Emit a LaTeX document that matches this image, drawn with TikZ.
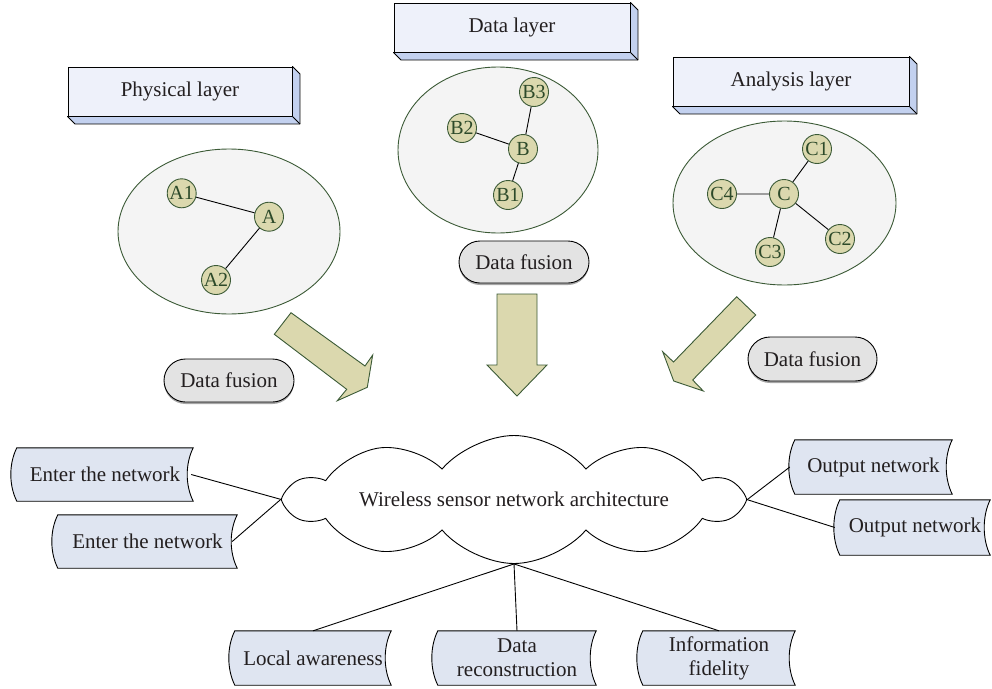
\documentclass[tikz,border=0pt]{standalone}
\usepackage{fontspec}
\setmainfont{Liberation Serif}
\usetikzlibrary{shapes.geometric,shapes.symbols,shapes.misc,backgrounds,shadows,calc}
\definecolor{layerfront}{HTML}{EEF1FA}
\definecolor{layerdepth}{HTML}{C3D1EF}
\definecolor{tapefill}{HTML}{DFE5F1}
\definecolor{ringfill}{HTML}{F4F4F4}
\definecolor{dkgreen}{HTML}{3B5A36}
\definecolor{khaki}{HTML}{DBD8AE}
\definecolor{dottext}{HTML}{2D4A2A}
\definecolor{pillfill}{HTML}{E3E3E3}
\definecolor{ink}{HTML}{231F20}
\begin{document}
\begin{tikzpicture}[x=1pt,y=-1pt,
  font=\fontsize{21}{24}\selectfont, text=ink,
  layer/.style={draw=black, fill=layerfront, line width=0.9pt, inner sep=0pt},
  depthface/.style={draw=black, fill=layerdepth, line width=0.9pt, line join=round},
  ring/.style={ellipse, draw=dkgreen, fill=ringfill, line width=0.9pt, inner sep=0pt},
  dot/.style={circle, draw=dkgreen, fill=khaki, text=dottext, line width=0.9pt,
    minimum size=29pt, inner sep=0pt, font=\fontsize{20}{20}\selectfont},
  pill/.style={rounded rectangle, draw=black, fill=pillfill, line width=0.9pt, inner sep=0pt,
    drop shadow={shadow xshift=0pt, shadow yshift=-2pt, fill=gray!70, opacity=1}},
  tape/.style={inner sep=0pt, align=center},
  tapeshape/.style={draw=black, fill=tapefill, line width=0.9pt},
  link/.style={draw=black, line width=0.9pt},
  blockarrow/.style={draw=dkgreen, fill=khaki, line width=0.9pt, line join=miter},
  netline/.style={draw=black, line width=0.9pt}]
\useasboundingbox (0,0) rectangle (992,688);

% ---- layer headers (boxes with a bevelled depth) ----
\node[layer, minimum width=224pt, minimum height=49pt] (pl) at (180,91.5) {Physical layer};
\node[layer, minimum width=236pt, minimum height=49pt] (dl) at (512,27.5) {Data layer};
\node[layer, minimum width=236pt, minimum height=49pt] (al) at (791,81.5) {Analysis layer};
\foreach \n in {pl,dl,al}{
  \filldraw[depthface] (\n.south west) -- ++(7.5,7.5) -| ($(\n.north east)+(7.5,7.5)$)
    -- (\n.north east) -- (\n.south east) -- cycle;
  \draw[depthface] (\n.south east) -- ++(7.5,7.5);
}

% ---- clusters ----
\node[ring, minimum width=222pt, minimum height=165pt] (ea) at (229,231.5) {};
\node[ring, minimum width=200pt, minimum height=166pt] (eb) at (498,150) {};
\node[ring, minimum width=223pt, minimum height=164pt] (ec) at (784.5,203) {};

\node[dot] (A1) at (181.7,193.3) {A1};
\node[dot] (A)  at (269,216.7) {A};
\node[dot] (A2) at (216,280) {A2};
\draw[netline] (A1) -- (A) (A) -- (A2);

\node[dot] (B3) at (534,92) {B3};
\node[dot] (B2) at (462,128) {B2};
\node[dot] (B)  at (523,149) {B};
\node[dot] (B1) at (508,195) {B1};
\draw[netline] (B2) -- (B) (B3) -- (B) (B) -- (B1);

\node[dot] (C1) at (817,149) {C1};
\node[dot] (C)  at (784,194) {C};
\node[dot] (C4) at (722,194) {C4};
\node[dot] (C2) at (840,239) {C2};
\node[dot] (C3) at (770,252) {C3};
\draw[netline] (C) -- (C1) (C) -- (C4) (C) -- (C2) (C) -- (C3);

% ---- data fusion labels ----
\node[pill, minimum width=130pt, minimum height=43pt] (df1) at (229,380.5) {Data fusion};
\node[pill, minimum width=130pt, minimum height=42pt] (df2) at (524,262) {Data fusion};
\node[pill, minimum width=129pt, minimum height=44pt] (df3) at (812.5,359) {Data fusion};

% ---- block arrows ----
\draw[blockarrow] (291,312.7) -- (365,366) -- (372.7,355) -- (367.3,387.3)
  -- (337.3,400.7) -- (346.7,389.3) -- (274.3,334.3) -- cycle;
\draw[blockarrow] (497,294) -- (537,294) -- (537,365) -- (547,365) -- (517,396)
  -- (487,365) -- (497,365) -- cycle;
\draw[blockarrow] (736.7,296.7) -- (755.7,315) -- (692.7,380) -- (703.3,391)
  -- (673.7,381) -- (662.7,351.7) -- (673.5,362) -- cycle;

% ---- central cloud ----
\node[cloud, draw=black, fill=white, line width=0.9pt, cloud puffs=10, cloud puff arc=100,
  cloud ignores aspect, minimum width=452pt, minimum height=128pt, inner sep=0pt]
  (wsn) at (514,499.5) {Wireless sensor network architecture};

% ---- stored-data boxes ----
\node[tape, minimum width=176pt, minimum height=53pt] (e1) at (105,474.5) {Enter the network};
\node[tape, minimum width=179pt, minimum height=53pt] (e2) at (147.5,541.5) {Enter the network};
\node[tape, minimum width=157pt, minimum height=54pt] (o1) at (873.5,467) {Output network};
\node[tape, minimum width=150pt, minimum height=55pt] (o2) at (915,527.5) {Output network};
\node[tape, minimum width=156pt, minimum height=54pt] (la) at (313,658) {Local awareness};
\node[tape, minimum width=158pt, minimum height=54pt] (dr) at (517,658) {Data\\reconstruction};
\node[tape, minimum width=152pt, minimum height=54pt] (if) at (719,658) {Information\\fidelity};
\begin{scope}[on background layer]
\foreach \n in {e1,e2,o1,o2,la,dr,if}{
  \draw[tapeshape] (\n.north west) -- (\n.north east)
    .. controls +(-8,16) and +(-8,-16) .. (\n.south east) -- (\n.south west)
    .. controls +(-8,-16) and +(-8,16) .. (\n.north west) -- cycle;
}
\end{scope}

% ---- connectors ----
\draw[link] ([xshift=-2pt]e1.east) -- (wsn.west);
\draw[link] ([xshift=-5pt]e2.east) -- (wsn.west);
\draw[link] ([xshift=-5pt]o1.west) -- (wsn.east);
\draw[link] ([xshift=-5pt]o2.west) -- (wsn.east);
\draw[link] (wsn.south) -- (la.north);
\draw[link] (wsn.south) -- (dr.north);
\draw[link] (wsn.south) -- (if.north);
\end{tikzpicture}
\end{document}
